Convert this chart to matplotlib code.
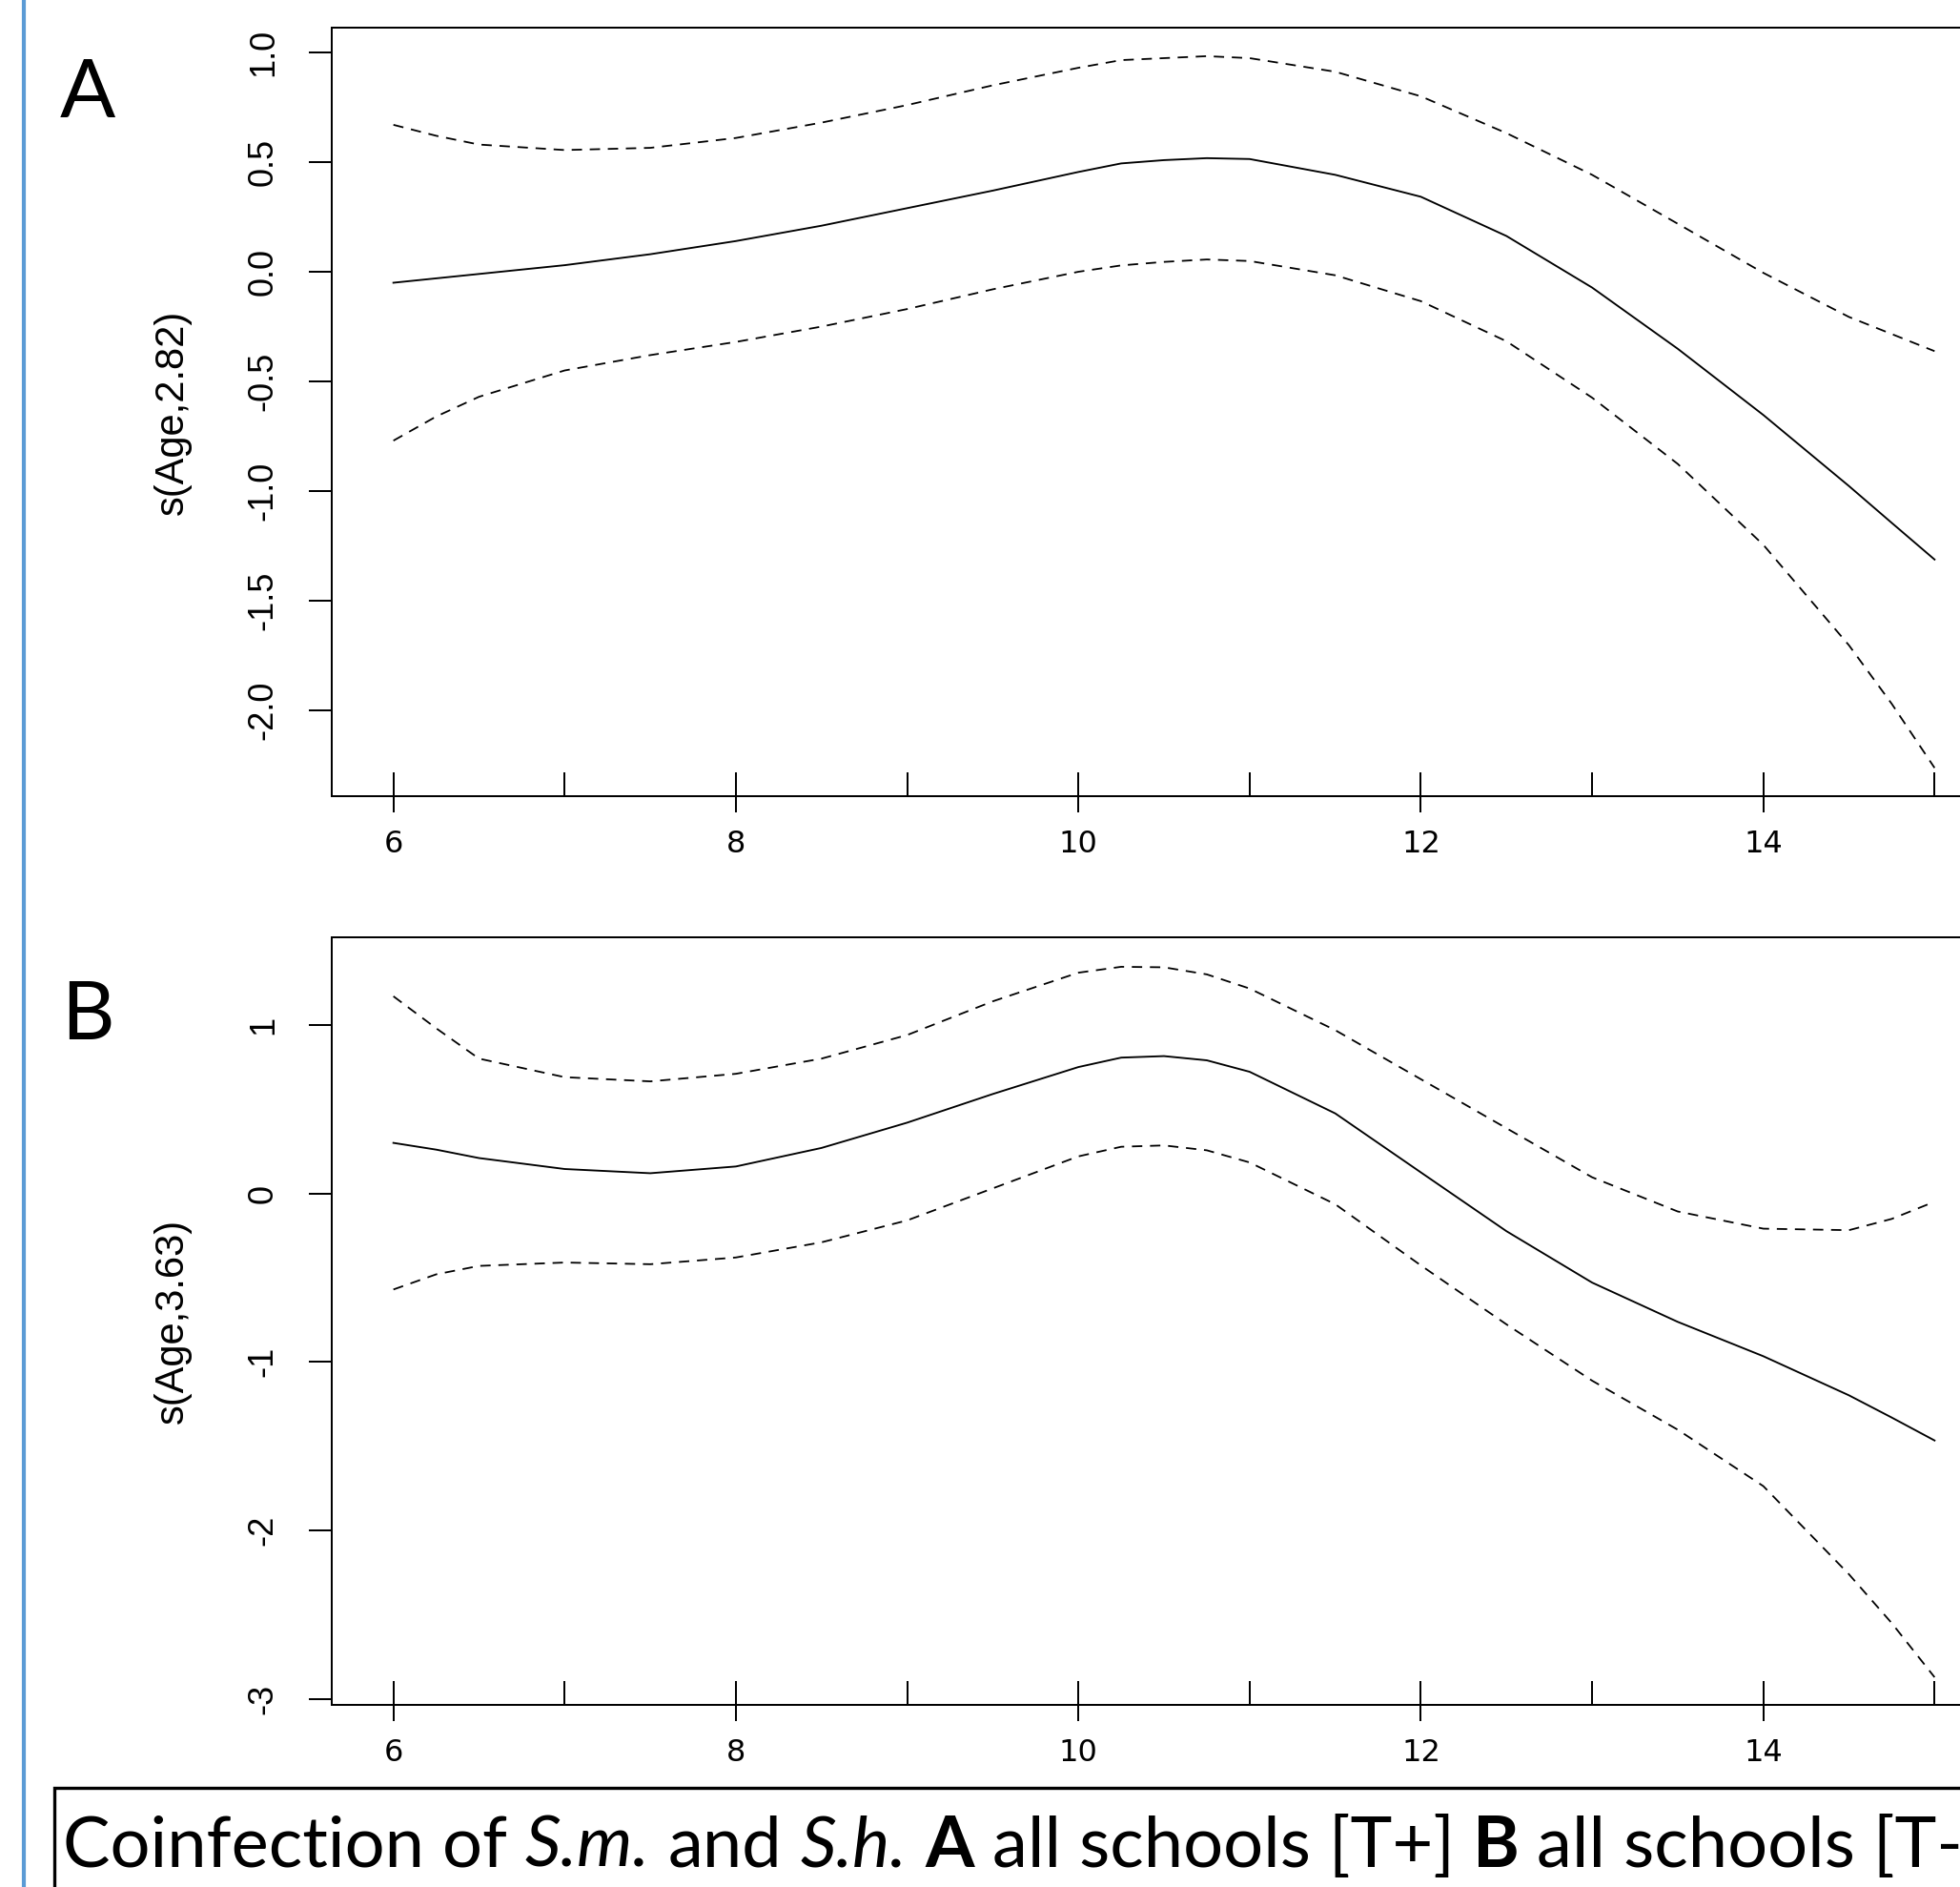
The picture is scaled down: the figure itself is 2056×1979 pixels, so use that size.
import numpy as np
import matplotlib
matplotlib.use("Agg")
import matplotlib.pyplot as plt
from matplotlib.lines import Line2D
from matplotlib.patches import Rectangle

ages = [6, 6.25, 6.5, 7, 7.5, 8, 8.5, 9, 9.5, 10, 10.25, 10.5, 10.75, 11, 11.5,
        12, 12.5, 13, 13.5, 14, 14.5, 14.75, 15]

# panel A: all schools [T+], s(Age,2.82)
a_fit = [-0.05, -0.03, -0.01, 0.03, 0.08, 0.14, 0.21, 0.29, 0.37, 0.455, 0.494,
         0.509, 0.518, 0.514, 0.442, 0.342, 0.163, -0.072, -0.351, -0.653, -0.977,
         -1.145, -1.312]
a_upper = [0.67, 0.62, 0.58, 0.555, 0.565, 0.61, 0.68, 0.76, 0.85, 0.93, 0.965,
           0.974, 0.983, 0.974, 0.912, 0.80, 0.632, 0.442, 0.219, -0.005, -0.206,
           -0.284, -0.362]
a_lower = [-0.77, -0.66, -0.57, -0.45, -0.38, -0.32, -0.25, -0.17, -0.08, 0.0, 0.029,
           0.045, 0.056, 0.049, -0.016, -0.134, -0.317, -0.574, -0.876, -1.245, -1.703,
           -1.97, -2.262]

# panel B: all schools [T-], s(Age,3.63)
b_fit = [0.30, 0.26, 0.21, 0.145, 0.12, 0.16, 0.27, 0.42, 0.59, 0.75, 0.806,
         0.815, 0.79, 0.722, 0.475, 0.125, -0.224, -0.529, -0.762, -0.966, -1.198,
         -1.33, -1.466]
b_upper = [1.17, 0.98, 0.80, 0.69, 0.665, 0.71, 0.80, 0.94, 1.14, 1.31, 1.345,
           1.342, 1.30, 1.216, 0.969, 0.678, 0.387, 0.096, -0.107, -0.209, -0.218,
           -0.151, -0.049]
b_lower = [-0.57, -0.48, -0.43, -0.41, -0.42, -0.38, -0.29, -0.16, 0.03, 0.22, 0.277,
           0.285, 0.256, 0.184, -0.064, -0.427, -0.777, -1.111, -1.402, -1.737, -2.260,
           -2.55, -2.871]

rug_ages = [6, 7, 8, 9, 10, 11, 12, 13, 14, 15]
x_ticks = [6, 8, 10, 12, 14]
x_labels = ["6", "8", "10", "12", "14"]
a_yticks = [-2.0, -1.5, -1.0, -0.5, 0.0, 0.5, 1.0]
a_ylabels = ["-2.0", "-1.5", "-1.0", "-0.5", "0.0", "0.5", "1.0"]
b_yticks = [-3, -2, -1, 0, 1]
b_ylabels = ["-3", "-2", "-1", "0", "1"]

panels = [
    ("A", "s(Age,2.82)", a_fit, a_upper, a_lower, a_yticks, a_ylabels, (-2.391, 1.113)),
    ("B", "s(Age,3.63)", b_fit, b_upper, b_lower, b_yticks, b_ylabels, (-3.035, 1.52)),
]

# caption pieces: (text, style), joined by single spaces
caption = [
    ("Coinfection of", "normal"), ("S.m.", "italic"), ("and", "normal"),
    ("S.h.", "italic"), ("A", "bold"), ("all schools [T+]", "normal"),
    ("B", "bold"), ("all schools [T-]", "normal"),
]

W, H = 2056, 1979
fig = plt.figure(figsize=(W / 100, H / 100), dpi=100)
narrow = ["Liberation Sans Narrow", "Liberation Sans"]

# axes boxes in pixels: (left, top, bottom); right edge runs past the figure
boxes = [(348, 29, 835), (348, 983, 1788)]
letter_base = [123, 1090]

for (letter, ylab, fit, up, lo, yt, ytl, ylim), (l, t, b), lb in zip(panels, boxes, letter_base):
    ax = fig.add_axes([l / W, 1 - b / H, 1746 / W, (b - t) / H])
    ax.plot(ages, fit, color="black", lw=1.35)
    ax.plot(ages, up, color="black", lw=1.3, dashes=(6, 4.5))
    ax.plot(ages, lo, color="black", lw=1.3, dashes=(6, 4.5))
    # rug of observed ages
    ax.vlines(rug_ages, 0, 25 / (b - t), transform=ax.get_xaxis_transform(),
              colors="black", lw=1.44)
    ax.set_xlim(5.64, 15.36)
    ax.set_ylim(*ylim)
    for s in ax.spines.values():
        s.set_linewidth(1.44)

    ax.set_xticks(x_ticks, x_labels)
    ax.tick_params(axis="x", direction="out", length=12, width=1.44, pad=13,
                   labelsize=23)
    for lab in ax.get_xticklabels():
        lab.set_family("DejaVu Sans")

    ax.set_yticks(yt, ytl)
    ax.tick_params(axis="y", direction="out", length=17, width=1.44, pad=22,
                   labelsize=26, labelrotation=90)
    for lab in ax.get_yticklabels():
        lab.set_family(narrow)
        lab.set_va("center")

    ax.set_ylabel(ylab, fontsize=30, family=narrow, va="center")
    ax.yaxis.set_label_coords((181 - l) / 1746, 0.5)

    fig.text(92 / W, 1 - lb / H, letter, fontsize=62, family="Lato",
             ha="center", va="baseline")

# left blue rule
fig.add_artist(Line2D([25 / W, 25 / W], [0, 1], color="#5B9BD5", lw=3))

# caption box, running off the right and bottom edges
fig.add_artist(Rectangle((57 / W, -0.1), 1.2, 0.1 + (1 - 1875 / H), fill=False,
                         ec="black", lw=2.4, transform=fig.transFigure))

renderer = fig.canvas.get_renderer()


def text_width(s, size, style):
    kw = {"fontstyle": "italic"} if style == "italic" else {}
    if style == "bold":
        kw = {"fontweight": "bold"}
    probe = fig.text(0, 0, s, fontsize=size, family="Lato", **kw)
    w = probe.get_window_extent(renderer).width
    probe.remove()
    return w


def layout(size):
    gap = text_width("x x", size, "normal") - text_width("xx", size, "normal")
    xs, x = [], 66.0
    for s, style in caption:
        xs.append(x)
        x += text_width(s, size, style) + gap
    return xs, gap


# size the caption so that the bold B ends where it does in the source
xs, gap = layout(50)
b_end = xs[6] + text_width("B", 50, "bold")
size = 50 * (1593 - 66) / (b_end - 66)
xs, gap = layout(size)

base = 1 - 1958 / H
for (s, style), x in zip(caption, xs):
    kw = {"fontstyle": "italic"} if style == "italic" else {}
    if style == "bold":
        kw = {"fontweight": "bold"}
    fig.text(x / W, base, s, fontsize=size, family="Lato", va="baseline", **kw)

fig.savefig("out.png", dpi=100)
